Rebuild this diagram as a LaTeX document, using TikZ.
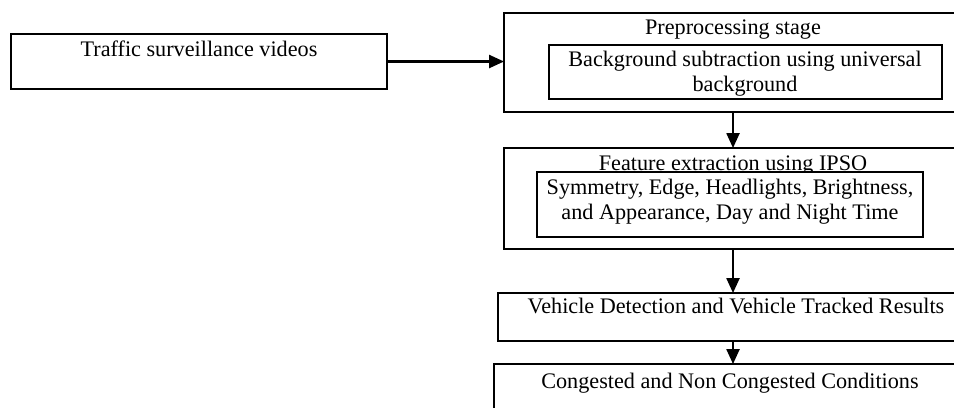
\documentclass[tikz,border=0pt]{standalone}
\usepackage{fontspec}
\setmainfont{Liberation Serif}
\usetikzlibrary{arrows.meta, positioning, calc}
\tikzset{
    frame/.style={rectangle, draw=black, line width=1.1pt, fill=white, inner sep=0pt, outer sep=0pt, anchor=north west},
    caption/.style={inner sep=0pt, align=center, font=\fontsize{12}{13.5}\selectfont},
    arrow/.style={line width=1.1pt, -{Triangle[length=8pt, width=7pt]}}
}

\begin{document}
\begin{tikzpicture}[x=0.019cm, y=-0.019cm]
    \useasboundingbox (0,0) rectangle (954,407);
    \clip (0,0) rectangle (954,407);
    \coordinate (spine) at (733,0);

    % Input videos
    \node[frame, minimum width=7.144cm, minimum height=1.045cm] (src) at (11,34) {};
    \node[caption, anchor=base] (srctxt) at (199,56) {Traffic surveillance videos};

    % Preprocessing stage
    \node[frame, minimum width=8.702cm, minimum height=1.881cm] (prep) at (504,13) {};
    \node[caption, anchor=base] (preptxt) at (733,34) {Preprocessing stage};
    \node[frame, minimum width=7.467cm, minimum height=1.026cm] (bgsub) at (549,45) {};
    \node[caption] (bgsubtxt) at (745,74) {Background subtraction using universal\\background};

    % Feature extraction
    \node[frame, minimum width=8.702cm, minimum height=1.919cm] (feat) at (504,148) {};
    \node[caption, anchor=base] (feattxt) at (733,170) {Feature extraction using IPSO};
    \node[frame, minimum width=7.334cm, minimum height=1.235cm] (cues) at (537,172) {};
    \node[caption] (cuestxt) at (730,202) {Symmetry, Edge, Headlights, Brightness,\\and Appearance, Day and Night Time};

    % Detection and tracking
    \node[frame, minimum width=9.044cm, minimum height=0.912cm] (veh) at (498,293) {};
    \node[caption, anchor=base] (vehtxt) at (736,313) {Vehicle Detection and Vehicle Tracked Results};

    % Traffic condition
    \node[frame, minimum width=8.968cm, minimum height=1.064cm] (cong) at (494,364) {};
    \node[caption, anchor=base] (congtxt) at (730,388) {Congested and Non Congested Conditions};

    % Arrows
    \draw[arrow] (src.east) -- (src.east -| prep.west);
    \draw[arrow] (prep.south -| spine) -- (feat.north -| spine);
    \draw[arrow] (feat.south -| spine) -- (veh.north -| spine);
    \draw[arrow] (veh.south -| spine) -- (cong.north -| spine);
\end{tikzpicture}
\end{document}
